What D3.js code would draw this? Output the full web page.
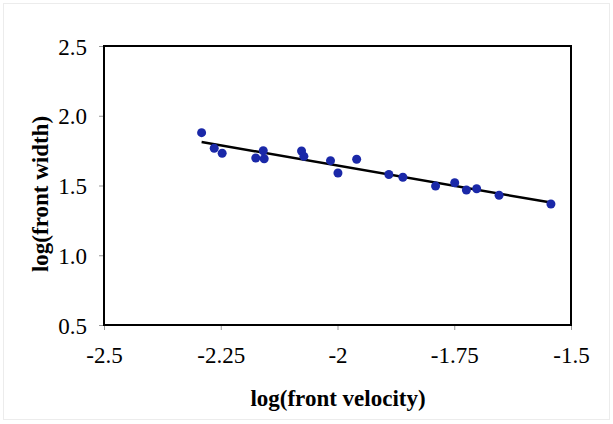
<!DOCTYPE html>
<meta charset="utf-8">
<style>
body { margin: 0; background: #fff; }
</style>
<svg width="613" height="424"></svg>
<script src="https://d3js.org/d3.v7.min.js"></script>
<script>

// log(front velocity), log(front width)
var logVelocity = [-2.291, -2.264, -2.247, -2.175, -2.159, -2.157, -2.077, -2.072, -2.015, -1.999,
                   -1.959, -1.890, -1.860, -1.790, -1.749, -1.724, -1.702, -1.654, -1.543];
var logWidth    = [1.879, 1.767, 1.731, 1.697, 1.749, 1.692, 1.747, 1.709, 1.678, 1.590,
                   1.688, 1.579, 1.559, 1.496, 1.520, 1.468, 1.477, 1.430, 1.367];
var xTicks = [-2.5, -2.25, -2, -1.75, -1.5];
var yTicks = [0.5, 1.0, 1.5, 2.0, 2.5];

var serif = "Liberation Serif";

var svg = d3.select("svg");

// faint page border
svg.append("rect")
    .attr("x", 3.5).attr("y", 3.5).attr("width", 606).attr("height", 416)
    .attr("fill", "none").attr("stroke", "#ececec");

var x = d3.scaleLinear().domain([-2.5, -1.5]).range([104, 571]);
var y = d3.scaleLinear().domain([0.5, 2.5]).range([325, 46]);

var xAxis = svg.append("g")
    .attr("transform", "translate(0,325)")
    .call(d3.axisBottom(x).tickValues(xTicks).tickSize(5).tickPadding(17)
      .tickFormat(function(d) { return String(d); }));

var yAxis = svg.append("g")
    .attr("transform", "translate(104,0)")
    .call(d3.axisLeft(y).tickValues(yTicks).tickSize(5).tickPadding(12)
      .tickFormat(d3.format(".1f")));

[xAxis, yAxis].forEach(function(a) {
  a.select(".domain").remove();
  a.selectAll(".tick line").attr("stroke", "#999");
  a.selectAll(".tick text").attr("font-family", serif).attr("font-size", 23).attr("fill", "#000");
});
yAxis.selectAll(".tick text").attr("dy", "0.35em");

// plot frame
svg.append("rect")
    .attr("x", 104).attr("y", 46).attr("width", 467).attr("height", 279)
    .attr("fill", "none").attr("stroke", "#000").attr("stroke-width", 2);

// least squares trend line
var n = logVelocity.length;
var mx = d3.mean(logVelocity), my = d3.mean(logWidth);
var sxy = 0, sxx = 0;
for (var i = 0; i < n; i++) {
  sxy += (logVelocity[i] - mx) * (logWidth[i] - my);
  sxx += (logVelocity[i] - mx) * (logVelocity[i] - mx);
}
var slope = sxy / sxx, intercept = my - slope * mx;
var xr = d3.extent(logVelocity);

svg.append("line")
    .attr("x1", x(xr[0])).attr("y1", y(intercept + slope * xr[0]))
    .attr("x2", x(xr[1])).attr("y2", y(intercept + slope * xr[1]))
    .attr("stroke", "#000").attr("stroke-width", 2.5);

svg.append("g")
  .selectAll("circle")
  .data(logVelocity)
  .enter().append("circle")
    .attr("cx", function(d) { return x(d); })
    .attr("cy", function(d, i) { return y(logWidth[i]); })
    .attr("r", 4.5)
    .attr("fill", "#1a28a8");

svg.append("text")
    .attr("font-family", serif).attr("font-size", 23).attr("font-weight", "bold")
    .attr("x", 338).attr("y", 406)
    .attr("text-anchor", "middle")
    .text("log(front velocity)");

svg.append("text")
    .attr("font-family", serif).attr("font-size", 23).attr("font-weight", "bold")
    .attr("transform", "translate(48,194) rotate(-90)")
    .attr("text-anchor", "middle")
    .text("log(front width)");

</script>
